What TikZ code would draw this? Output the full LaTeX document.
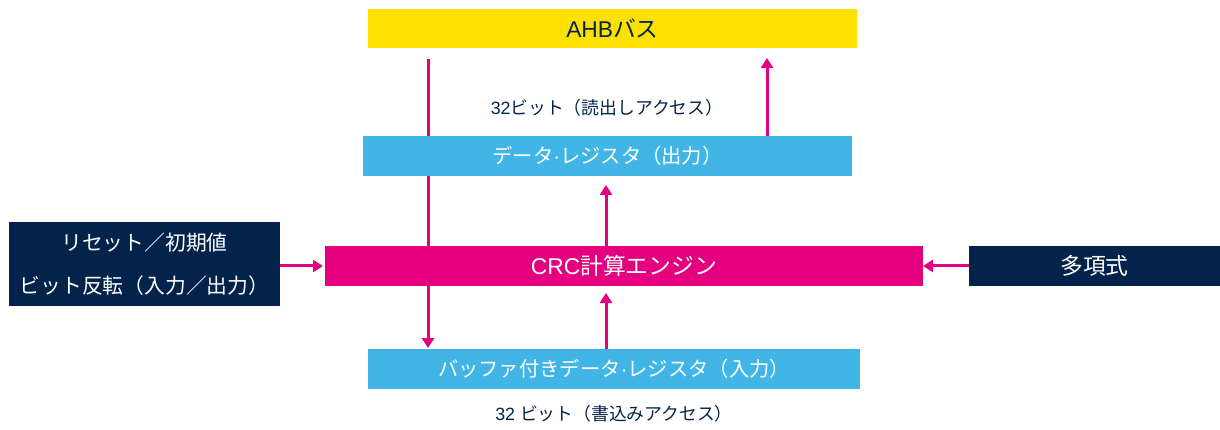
\documentclass[tikz,border=0pt]{standalone}
\usepackage{fontspec}
\setmainfont{Liberation Sans}
\newfontfamily\jp{Noto Sans CJK JP}
\usetikzlibrary{arrows.meta,backgrounds}
\definecolor{stYellow}{HTML}{FFE100}
\definecolor{stBlue}{HTML}{41B6E6}
\definecolor{stPink}{HTML}{E4007F}
\definecolor{stNavy}{HTML}{03234B}
\tikzset{
  box/.style={inner sep=0pt, outer sep=0pt, draw=none, align=center, font=\fontsize{20.3}{24}\selectfont},
  bigtext/.style={font=\fontsize{22.8}{27}\selectfont},
  arr/.style={draw=stPink, line width=3pt, -{Triangle[length=10pt,width=12pt]}},
  lbl/.style={text=stNavy, font=\fontsize{17.8}{21}\selectfont, inner sep=0pt},
}
\begin{document}
\begin{tikzpicture}[x=1pt,y=-1pt]
\useasboundingbox (0,0) rectangle (1220,430);
\node[box, bigtext, fill=stYellow, text=stNavy, minimum width=489pt, minimum height=39pt] (ahb) at (612.5,28.5) {AHB{\jp バス}};
\node[box, fill=stBlue, text=white, minimum width=489pt, minimum height=40pt] (dout) at (607.5,156) {{\jp データ}·{\jp レジスタ（出力）}};
\node[box, bigtext, fill=stPink, text=white, minimum width=598pt, minimum height=40pt] (crc) at (624,266) {CRC{\jp 計算エンジン}};
\node[box, fill=stBlue, text=white, minimum width=492pt, minimum height=40pt] (din) at (614,369) {{\jp バッファ付きデータ}·{\jp レジスタ（入力）}};
\node[box, fill=stNavy, text=white, minimum width=271pt, minimum height=84pt, font=\fontsize{20.8}{43}\selectfont] (rst) at (144.5,264) {{\jp リセット／初期値}\\{\jp ビット反転（入力／出力）}};
\node[box, bigtext, fill=stNavy, text=white, minimum width=251pt, minimum height=40pt] (poly) at (1094.5,266) {{\jp 多項式}};
\node[lbl] (rdlbl) at (607,108) {32{\jp ビット（読出しアクセス）}};
\node[lbl] (wrlbl) at (614,414) {32 {\jp ビット（書込みアクセス）}};
\coordinate (xl) at (428,0);
\coordinate (xm) at (606,0);
\coordinate (xr) at (767,0);
\begin{scope}[on background layer]
\draw[arr, shorten <=11pt, shorten >=1pt] (xl |- ahb.south) -- (xl |- din.north);
\end{scope}
\draw[arr, shorten >=10pt] (xr |- dout.north) -- (xr |- ahb.south);
\draw[arr, shorten >=9pt] (xm |- crc.north) -- (xm |- dout.south);
\draw[arr, shorten >=7pt] (xm |- din.north) -- (xm |- crc.south);
\draw[arr, shorten >=2pt] (rst.east |- crc.west) -- (crc.west);
\draw[arr] (poly.west) -- (crc.east);
\end{tikzpicture}
\end{document}
